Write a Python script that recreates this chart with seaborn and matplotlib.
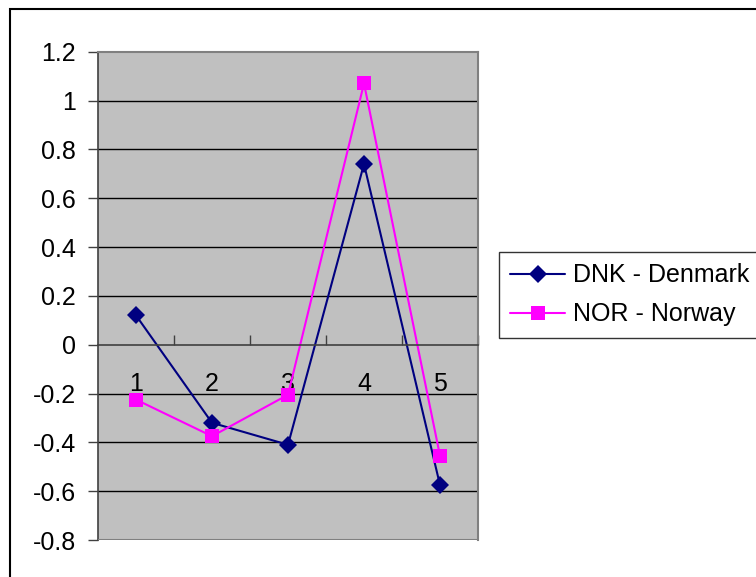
import pandas as pd
import seaborn as sns
import matplotlib.pyplot as plt
from matplotlib.patches import Rectangle
from matplotlib.ticker import FixedLocator, NullFormatter

# --- datos ---
periods = [1, 2, 3, 4, 5]
dnk = [0.12, -0.32, -0.41, 0.74, -0.575]
nor = [-0.225, -0.375, -0.205, 1.07, -0.455]
series_names = ['DNK - Denmark', 'NOR - Norway']
y_ticks = [1.2, 1, 0.8, 0.6, 0.4, 0.2, 0, -0.2, -0.4, -0.6, -0.8]

df = pd.DataFrame({
    'pos': list(range(len(periods))) * 2,
    'value': dnk + nor,
    'country': [series_names[0]] * len(periods) + [series_names[1]] * len(periods),
})

sns.set_theme(style="white")
plt.rcParams['font.family'] = ['Liberation Sans', 'DejaVu Sans']
plt.rcParams['text.color'] = 'black'
plt.rcParams['xtick.color'] = 'black'
plt.rcParams['ytick.color'] = 'black'

fig = plt.figure(figsize=(7.56, 5.77), dpi=100)
ax = fig.add_axes([98 / 756, 1 - 540 / 577, 380 / 756, 488.3 / 577])
ax.set_facecolor('#c0c0c0')

palette = {series_names[0]: '#000080', series_names[1]: '#ff00ff'}
markers = {series_names[0]: 'D', series_names[1]: 's'}
sns.lineplot(data=df, x='pos', y='value', hue='country', style='country',
             palette=palette, markers=markers, dashes=False, markersize=9.5,
             markeredgewidth=0, linewidth=1.5, ax=ax, legend=True)

ax.set_xlim(-0.5, len(periods) - 0.5)
ax.set_ylim(-0.8, 1.2)
ax.set_xlabel('')
ax.set_ylabel('')

# grid horizontal
ax.set_yticks(y_ticks)
ax.set_yticklabels([f'{t:g}' for t in y_ticks], fontsize=18)
for t in y_ticks:
    if t not in (0, -0.8, 1.2):
        ax.axhline(t, color='black', linewidth=1, zorder=0.5)

# eje x en el cero
ax.spines['bottom'].set_position(('data', 0))
ax.spines['bottom'].set_color('#404040')
ax.spines['bottom'].set_linewidth(1.2)
ax.spines['left'].set_color('#404040')
ax.spines['left'].set_linewidth(1.2)
ax.spines['top'].set_color('#808080')
ax.spines['right'].set_color('#808080')
ax.spines['top'].set_linewidth(1.5)
ax.spines['right'].set_linewidth(1.5)
ax.axhline(-0.8, color='#808080', linewidth=1.5, zorder=3)

ax.xaxis.set_major_locator(FixedLocator([i + 0.5 for i in range(len(periods))]))
ax.xaxis.set_major_formatter(NullFormatter())
ax.xaxis.set_minor_locator(FixedLocator(list(range(len(periods)))))
ax.set_xticklabels([str(p) for p in periods], minor=True, fontsize=18)
ax.tick_params(axis='x', which='major', direction='in', length=7, width=1, color='#404040', bottom=True)
ax.tick_params(axis='x', which='minor', length=0, pad=20, bottom=True)
ax.tick_params(axis='y', which='major', direction='out', length=7, width=1, color='#404040', left=True, pad=9)

leg = ax.legend(loc='center left', bbox_to_anchor=(499 / 756, 1 - 295 / 577),
                bbox_transform=fig.transFigure, fontsize=18, frameon=True,
                fancybox=False, borderpad=0.45, handlelength=2.2, handletextpad=0.3,
                labelspacing=0.6, borderaxespad=0)
leg.get_frame().set_edgecolor('black')
leg.get_frame().set_linewidth(1)

# marco exterior
fig.patches.append(Rectangle((10 / 756, -0.05), 1.1, 1 - 9 / 577 + 0.05,
                             transform=fig.transFigure, fill=False,
                             edgecolor='black', linewidth=1.5))

plt.savefig('out.png', dpi=100)
